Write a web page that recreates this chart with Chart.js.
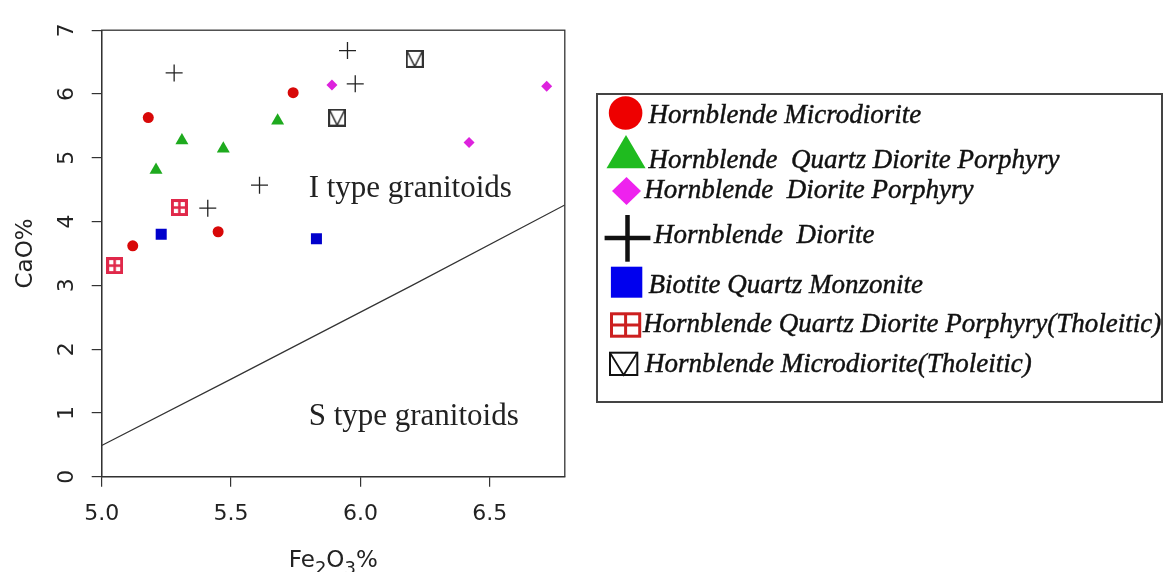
<!DOCTYPE html>
<html>
<head>
<meta charset="utf-8">
<script src="https://cdn.jsdelivr.net/npm/chart.js@4.4.1/dist/chart.umd.min.js"></script>
<style>
  html, body { margin: 0; padding: 0; background: #fff; }
  #wrap { position: relative; width: 1164px; height: 572px; overflow: hidden; }
  #plotBox { position: absolute; left: 0; top: 0; width: 590px; height: 572px; }
  #legend { position: absolute; left: 0; top: 0; }
  #legend text { font-family: "Liberation Serif", serif; font-style: italic; font-size: 27px; fill: #111; stroke: #111; stroke-width: 0.45; white-space: pre; }
</style>
</head>
<body>
<div id="wrap">
  <div id="plotBox"><canvas id="scatter"></canvas></div>
  <svg id="legend" width="1164" height="572" xmlns="http://www.w3.org/2000/svg">
    <rect x="597" y="94" width="565" height="308" fill="none" stroke="#444" stroke-width="2"/>
    <circle cx="625.6" cy="113" r="16.8" fill="#ee0000"/>
    <polygon points="606.5,168.3 645.6,168.3 626,135" fill="#1fbb1f"/>
    <polygon points="612,191 626.5,177 641,191 626.5,205" fill="#ee22ee"/>
    <line x1="604.6" y1="238" x2="650.4" y2="238" stroke="#111" stroke-width="4.5"/>
    <line x1="627.5" y1="215" x2="627.5" y2="261.7" stroke="#111" stroke-width="4.5"/>
    <rect x="610.9" y="266.7" width="31.4" height="31" fill="#0000ee"/>
    <rect x="611.5" y="313.8" width="28.2" height="22.4" fill="#fff" stroke="#cc2020" stroke-width="3"/>
    <line x1="611.5" y1="325" x2="639.7" y2="325" stroke="#cc2020" stroke-width="3"/>
    <line x1="625.6" y1="313.8" x2="625.6" y2="336.2" stroke="#cc2020" stroke-width="3"/>
    <rect x="610" y="352.7" width="27.3" height="22.3" fill="none" stroke="#111" stroke-width="2"/>
    <polyline points="610,352.7 623.7,375 637.3,352.7" fill="none" stroke="#111" stroke-width="1.8"/>
    <text x="648.6" y="123.3">Hornblende Microdiorite</text>
    <text x="648.6" y="168.3">Hornblende  Quartz Diorite Porphyry</text>
    <text x="644.2" y="198.3">Hornblende  Diorite Porphyry</text>
    <text x="654" y="243.3">Hornblende  Diorite</text>
    <text x="648.6" y="292.7">Biotite Quartz Monzonite</text>
    <text x="643" y="332.3">Hornblende Quartz Diorite Porphyry(Tholeitic)</text>
    <text x="645" y="371.7">Hornblende Microdiorite(Tholeitic)</text>
  </svg>
</div>
<script>
// axis ticks
const xTicks = [5.0, 5.5, 6.0, 6.5];
const yTicks = [0, 1, 2, 3, 4, 5, 6, 7];

// Fe2O3 / CaO per rock type
const microdioriteFe = [5.18, 5.74, 5.12, 5.45];
const microdioriteCa = [5.63, 6.02, 3.62, 3.84];
const qtzDioritePorphFe = [5.31, 5.47, 5.21, 5.68];
const qtzDioritePorphCa = [5.27, 5.14, 4.81, 5.58];
const dioritePorphFe = [5.89, 6.72, 6.42];
const dioritePorphCa = [6.14, 6.12, 5.24];
const dioriteFe = [5.95, 5.28, 5.98, 5.61, 5.41];
const dioriteCa = [6.68, 6.33, 6.16, 4.57, 4.21];
const monzoniteFe = [5.23, 5.83];
const monzoniteCa = [3.80, 3.73];
const qtzDioriteTholFe = [5.30, 5.05];
const qtzDioriteTholCa = [4.22, 3.31];
const microdioriteTholFe = [6.21, 5.91];
const microdioriteTholCa = [6.55, 5.63];

// I / S boundary line
const boundaryFe = [5.0, 5.5, 6.2, 6.79];
const boundaryCa = [0.49, 1.53, 3.0, 4.26];

// field labels
const fieldNames = ['I type granitoids', 'S type granitoids'];
const fieldFe = [5.8, 5.8];
const fieldCa = [4.39, 0.81];

const pts = (xs, ys) => xs.map((x, i) => ({ x: x, y: ys[i] }));

function boxPlus() {
    const c = document.createElement('canvas');
    c.width = 17; c.height = 17;
    const g = c.getContext('2d');
    g.fillStyle = '#fff';
    g.fillRect(1.5, 1.5, 14, 14);
    g.strokeStyle = '#e0284a';
    g.lineWidth = 3;
    g.strokeRect(1.5, 1.5, 14, 14);
    g.lineWidth = 2.5;
    g.beginPath();
    g.moveTo(1.5, 8.5); g.lineTo(15.5, 8.5);
    g.moveTo(8.5, 1.5); g.lineTo(8.5, 15.5);
    g.stroke();
    return c;
}

function boxV() {
    const c = document.createElement('canvas');
    c.width = 18; c.height = 18;
    const g = c.getContext('2d');
    g.strokeStyle = '#333';
    g.lineWidth = 2;
    g.strokeRect(1, 1, 16, 16);
    g.lineWidth = 1.6;
    g.beginPath();
    g.moveTo(1.5, 1.5); g.lineTo(9, 16.5); g.lineTo(16.5, 1.5);
    g.stroke();
    return c;
}

const framePlugin = {
    id: 'frame',
    afterDatasetsDraw(chart) {
        const { ctx, chartArea: a } = chart;
        ctx.save();
        ctx.strokeStyle = '#333';
        ctx.lineWidth = 1.3;
        ctx.strokeRect(a.left, a.top, a.right - a.left, a.bottom - a.top);
        ctx.restore();
    }
};

const fieldLabels = {
    id: 'fieldLabels',
    afterDatasetsDraw(chart) {
        const { ctx, scales } = chart;
        ctx.save();
        ctx.fillStyle = '#222';
        ctx.font = '31px "Liberation Serif", serif';
        ctx.textBaseline = 'alphabetic';
        fieldNames.forEach((t, i) => {
            ctx.fillText(t, scales.x.getPixelForValue(fieldFe[i]), scales.y.getPixelForValue(fieldCa[i]));
        });
        ctx.restore();
    }
};

// x title with real subscripts
const xTitle = {
    id: 'xTitle',
    afterDraw(chart) {
        const { ctx, chartArea: a } = chart;
        const parts = [['Fe', 0], ['2', 1], ['O', 0], ['3', 1], ['%', 0]];
        const big = '23px "DejaVu Sans", sans-serif';
        const small = '18px "DejaVu Sans", sans-serif';
        ctx.save();
        ctx.fillStyle = '#222';
        ctx.textBaseline = 'alphabetic';
        let w = 0;
        parts.forEach(p => { ctx.font = p[1] ? small : big; w += ctx.measureText(p[0]).width; });
        let x = (a.left + a.right) / 2 - w / 2;
        const base = 567;
        parts.forEach(p => {
            ctx.font = p[1] ? small : big;
            ctx.fillText(p[0], x, base + (p[1] ? 7 : 0));
            x += ctx.measureText(p[0]).width;
        });
        ctx.restore();
    }
};

const tickFont = { family: '"DejaVu Sans", sans-serif', size: 22 };

new Chart(document.getElementById('scatter'), {
    type: 'scatter',
    data: {
        datasets: [
            { data: pts(boundaryFe, boundaryCa), showLine: true, borderColor: '#333', borderWidth: 1.2, pointRadius: 0, fill: false },
            { data: pts(microdioriteFe, microdioriteCa), pointStyle: 'circle', pointRadius: 5.5, backgroundColor: '#d80808', borderWidth: 0 },
            { data: pts(qtzDioritePorphFe, qtzDioritePorphCa), pointStyle: 'triangle', pointRadius: 7.5, backgroundColor: '#1eaa1e', borderWidth: 0 },
            { data: pts(dioritePorphFe, dioritePorphCa), pointStyle: 'rectRot', pointRadius: 5.5, backgroundColor: '#dd22dd', borderWidth: 0 },
            { data: pts(dioriteFe, dioriteCa), pointStyle: 'cross', pointRadius: 8.5, borderColor: '#222', borderWidth: 1.3 },
            { data: pts(monzoniteFe, monzoniteCa), pointStyle: 'rect', pointRadius: 7.8, backgroundColor: '#0000cc', borderWidth: 0 },
            { data: pts(qtzDioriteTholFe, qtzDioriteTholCa), pointStyle: boxPlus(), pointRadius: 8 },
            { data: pts(microdioriteTholFe, microdioriteTholCa), pointStyle: boxV(), pointRadius: 9 }
        ]
    },
    options: {
        responsive: true,
        maintainAspectRatio: false,
        animation: false,
        layout: { padding: { left: 0, top: 24, right: 25.2, bottom: 0 } },
        plugins: { legend: { display: false }, tooltip: { enabled: false } },
        scales: {
            x: {
                type: 'linear',
                min: 5.0,
                max: 6.79,
                afterBuildTicks: s => { s.ticks = xTicks.map(v => ({ value: v })); },
                afterFit: s => { s.height = 95.3; },
                grid: { drawOnChartArea: false, tickLength: 10, color: '#333', lineWidth: 1.2 },
                border: { color: '#333', width: 1.3 },
                ticks: { font: tickFont, color: '#222', padding: 14, maxRotation: 0, callback: v => Number(v).toFixed(1) }
            },
            y: {
                type: 'linear',
                min: 0,
                max: 7,
                afterBuildTicks: s => { s.ticks = yTicks.map(v => ({ value: v })); },
                afterFit: s => { s.width = 101.7; },
                grid: { drawOnChartArea: false, tickLength: 10, color: '#333', lineWidth: 1.2 },
                border: { color: '#333', width: 1.3 },
                ticks: { font: tickFont, color: '#222', padding: 17, minRotation: 90, maxRotation: 90, crossAlign: 'center' },
                title: { display: true, text: 'CaO%', color: '#222', font: { family: '"DejaVu Sans", sans-serif', size: 23 }, padding: { top: 12, bottom: 0 } }
            }
        }
    },
    plugins: [framePlugin, fieldLabels, xTitle]
});
</script>
</body>
</html>
